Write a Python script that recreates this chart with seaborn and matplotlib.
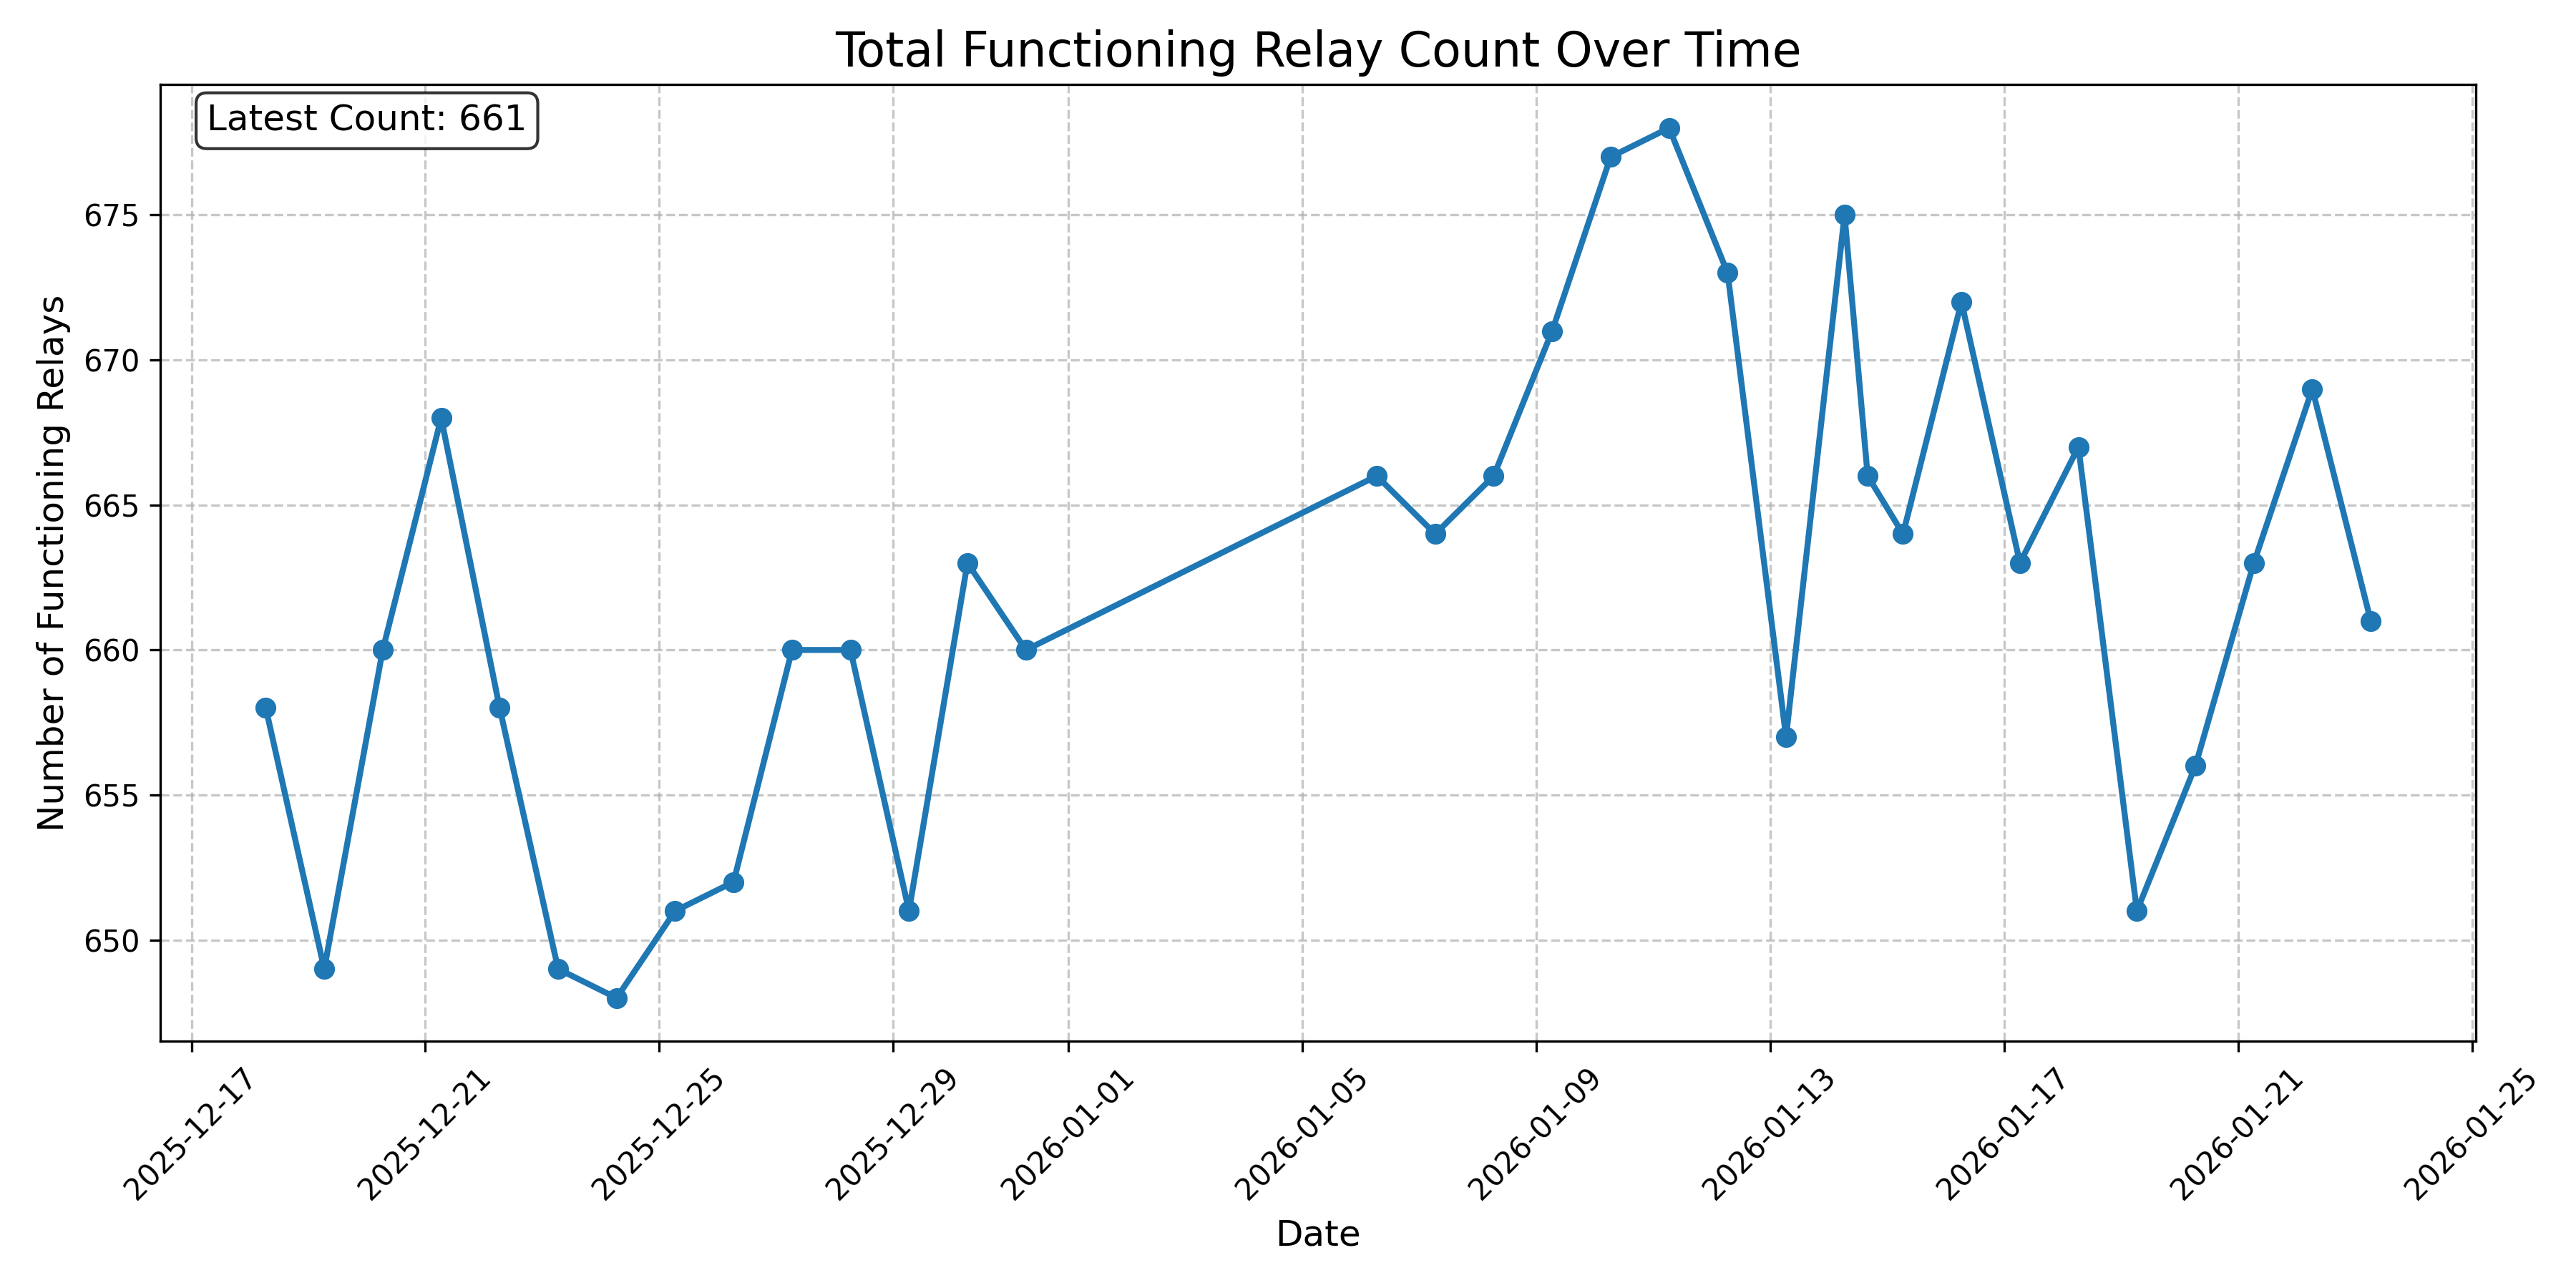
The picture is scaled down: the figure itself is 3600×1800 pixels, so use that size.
import matplotlib

matplotlib.use("Agg")
import matplotlib.pyplot as plt
import pandas as pd
import seaborn as sns

# Daily snapshot times, plus one extra check on 2026-01-14
snapshot_times = [
    "2025-12-18 06:30", "2025-12-19 06:30", "2025-12-20 06:30", "2025-12-21 06:30",
    "2025-12-22 06:30", "2025-12-23 06:30", "2025-12-24 06:30", "2025-12-25 06:30",
    "2025-12-26 06:30", "2025-12-27 06:30", "2025-12-28 06:30", "2025-12-29 06:30",
    "2025-12-30 06:30", "2025-12-31 06:30", "2026-01-06 06:30", "2026-01-07 06:30",
    "2026-01-08 06:30", "2026-01-09 06:30", "2026-01-10 06:30", "2026-01-11 06:30",
    "2026-01-12 06:30", "2026-01-13 06:30", "2026-01-14 06:30", "2026-01-14 16:00",
    "2026-01-15 06:30", "2026-01-16 06:30", "2026-01-17 06:30", "2026-01-18 06:30",
    "2026-01-19 06:30", "2026-01-20 06:30", "2026-01-21 06:30", "2026-01-22 06:30",
    "2026-01-23 06:30",
]
relay_counts = [
    658, 649, 660, 668, 658, 649, 648, 651, 652, 660, 660, 651, 663, 660,
    666, 664, 666, 671, 677, 678, 673, 657, 675, 666, 664, 672, 663, 667,
    651, 656, 663, 669, 661,
]

relay_df = pd.DataFrame(
    {"timestamp": pd.to_datetime(snapshot_times), "count": relay_counts}
)

line_color = "#1f77b4"

fig, ax = plt.subplots(figsize=(12, 6))
sns.lineplot(
    data=relay_df,
    x="timestamp",
    y="count",
    marker="o",
    markersize=6,
    markeredgewidth=1,
    markeredgecolor=line_color,
    linewidth=2,
    color=line_color,
    ax=ax,
)

ax.set_title("Total Functioning Relay Count Over Time", fontsize=16)
ax.set_xlabel("Date", fontsize=12)
ax.set_ylabel("Number of Functioning Relays", fontsize=12)
ax.grid(True, linestyle="--", alpha=0.7)
plt.xticks(rotation=45)

latest = relay_counts[-1]
ax.text(
    0.02,
    0.98,
    f"Latest Count: {latest}",
    transform=ax.transAxes,
    fontsize=12,
    verticalalignment="top",
    bbox=dict(boxstyle="round", facecolor="white", alpha=0.8),
)

plt.tight_layout()
plt.savefig("out.png", dpi=300)
